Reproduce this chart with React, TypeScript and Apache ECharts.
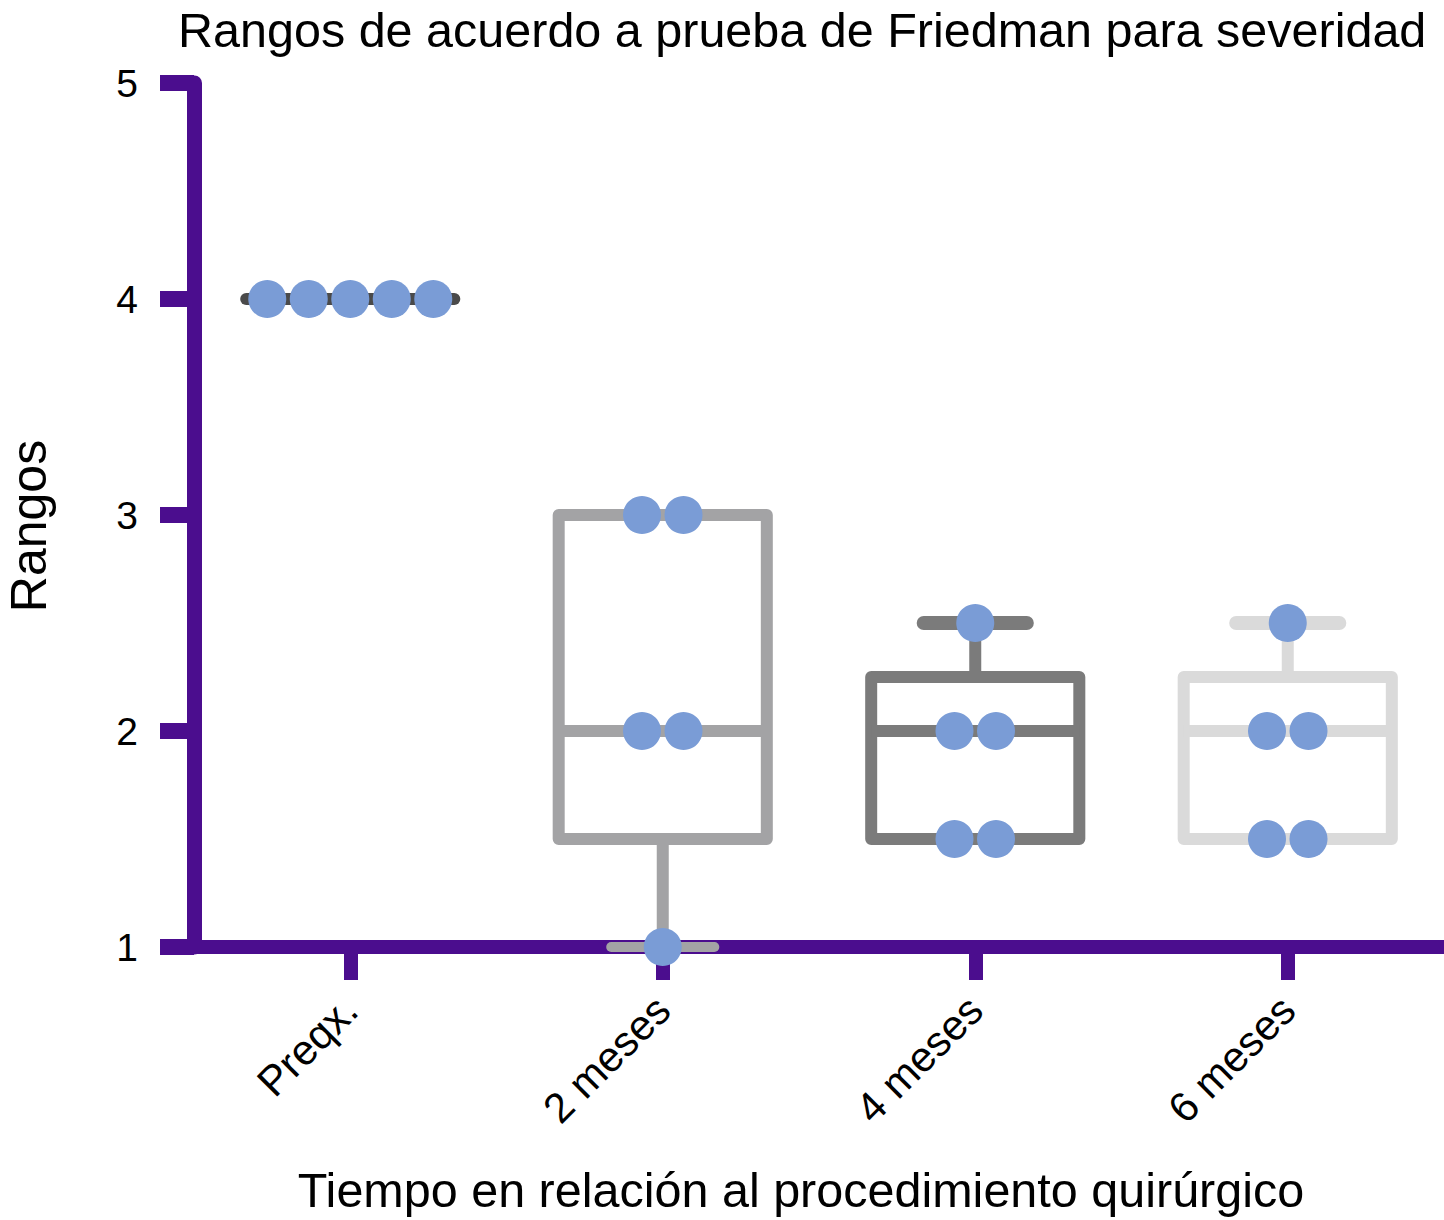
import React, { useEffect, useRef } from "react";
import * as echarts from "echarts";

const titleText = "Rangos de acuerdo a prueba de Friedman para severidad";
const xAxisTitle = "Tiempo en relación al procedimiento quirúrgico";
const yAxisTitle = "Rangos";
const categories = ["Preqx.", "2 meses", "4 meses", "6 meses"];

// per-subject rank values by category
const preqxValues = [4, 4, 4, 4, 4];
const meses2Values = [3, 3, 2, 2, 1];
const meses4Values = [2.5, 2, 2, 1.5, 1.5];
const meses6Values = [2.5, 2, 2, 1.5, 1.5];

// box stats: [min, Q1, median, Q3, max]
const preqxBox = [4, 4, 4, 4, 4];
const meses2Box = [1, 1.5, 2, 3, 3];
const meses4Box = [1.5, 1.5, 2, 2.25, 2.5];
const meses6Box = [1.5, 1.5, 2, 2.25, 2.5];

const yMin = 1;
const yMax = 5;
const yInterval = 1;

const boxColors = ["#4a4a4a", "#a3a3a5", "#7b7b7b", "#dadada"];
const AXIS_COLOR = "#4B0D8E";
const POINT_COLOR = "#7A9CD6";
const FONT = "Liberation Sans, Arial, Helvetica, sans-serif";

export default function App() {
  const ref = useRef<HTMLDivElement>(null);

  useEffect(() => {
    document.body.style.margin = "0";
    if (!ref.current) return;
    const chart = echarts.init(ref.current, null, { renderer: "svg" });

    const allValues = [preqxValues, meses2Values, meses4Values, meses6Values];
    const allBoxes = [preqxBox, meses2Box, meses4Box, meses6Box];

    const boxData = allBoxes.map((b, i) => [i, ...b]);

    // points: [category, value, rank among equal values, count of equal values]
    const pointData: number[][] = [];
    allValues.forEach((vals, c) => {
      const seen: Record<string, number> = {};
      vals.forEach((v) => {
        const n = vals.filter((w) => w === v).length;
        const k = seen[v] || 0;
        seen[v] = k + 1;
        pointData.push([c, v, k, n]);
      });
    });

    const option: any = {
      animation: false,
      backgroundColor: "#ffffff",
      title: {
        text: titleText,
        left: 173,
        top: 0,
        textStyle: { fontFamily: FONT, fontSize: 48.5, fontWeight: "normal", color: "#000" },
      },
      grid: { left: 194, right: 0, top: 83, bottom: 273, containLabel: false, outerBoundsMode: "none" },
      xAxis: {
        type: "category",
        data: categories,
        boundaryGap: true,
        name: xAxisTitle,
        nameLocation: "middle",
        nameGap: 218,
        nameTextStyle: { fontFamily: FONT, fontSize: 48.5, color: "#000", padding: [0, 36, 0, 0] },
        axisLine: { lineStyle: { color: AXIS_COLOR, width: 14 } },
        axisTick: { show: true, interval: 0, alignWithLabel: true, length: 33, lineStyle: { color: AXIS_COLOR, width: 14 } },
        axisLabel: { rotate: 45, interval: 0, fontFamily: FONT, fontSize: 42, color: "#000", margin: 56 },
        splitLine: { show: false },
      },
      yAxis: {
        type: "value",
        min: yMin,
        max: yMax,
        interval: yInterval,
        name: yAxisTitle,
        nameLocation: "middle",
        nameGap: 140,
        nameTextStyle: { fontFamily: FONT, fontSize: 50, color: "#000", padding: [0, 22, 0, 0] },
        axisLine: { show: true, lineStyle: { color: AXIS_COLOR, width: 15 } },
        axisTick: { show: true, length: 34, lineStyle: { color: AXIS_COLOR, width: 16 } },
        axisLabel: { fontFamily: FONT, fontSize: 39, color: "#000", margin: 56 },
        splitLine: { show: false },
      },
      series: [
        {
          type: "custom",
          z: 3,
          data: boxData,
          encode: { x: 0, y: [1, 2, 3, 4, 5] },
          renderItem: (params: any, api: any) => {
            const c = api.value(0);
            const mn = api.value(1), q1 = api.value(2), md = api.value(3), q3 = api.value(4), mx = api.value(5);
            const band = api.size([1, 0])[0];
            const x = api.coord([c, md])[0];
            const half = band * 0.333;
            const capHalf = band * 0.165;
            const y = (v: number) => api.coord([c, v])[1];
            const color = boxColors[c];
            const style = { stroke: color, lineWidth: 12, fill: null, lineCap: "round", lineJoin: "round" };
            const children: any[] = [];
            if (mn < q1) {
              children.push({ type: "line", shape: { x1: x, y1: y(q1), x2: x, y2: y(mn) }, style: { ...style, lineCap: "butt" } });
              children.push({ type: "line", shape: { x1: x - capHalf, y1: y(mn), x2: x + capHalf, y2: y(mn) }, style: { ...style, lineWidth: 10 } });
            }
            if (mx > q3) {
              children.push({ type: "line", shape: { x1: x, y1: y(q3), x2: x, y2: y(mx) }, style: { ...style, lineCap: "butt" } });
              children.push({ type: "line", shape: { x1: x - capHalf, y1: y(mx), x2: x + capHalf, y2: y(mx) }, style: { ...style, lineWidth: 14 } });
            }
            if (q3 > q1) {
              children.push({ type: "rect", shape: { x: x - half, y: y(q3), width: 2 * half, height: y(q1) - y(q3) }, style: { ...style, lineCap: "butt" } });
            }
            children.push({ type: "line", shape: { x1: x - half, y1: y(md), x2: x + half, y2: y(md) }, style: { ...style, lineCap: q3 > q1 ? "butt" : "round" } });
            return { type: "group", children };
          },
        },
        {
          type: "custom",
          z: 4,
          data: pointData,
          encode: { x: 0, y: 1 },
          renderItem: (params: any, api: any) => {
            const c = api.value(0), v = api.value(1), k = api.value(2), n = api.value(3);
            const p = api.coord([c, v]);
            const spacing = 41.5;
            return {
              type: "circle",
              shape: { cx: p[0] + (k - (n - 1) / 2) * spacing, cy: p[1], r: 19 },
              style: { fill: POINT_COLOR },
            };
          },
        },
      ],
    };

    chart.setOption(option);
    return () => chart.dispose();
  }, []);

  return <div ref={ref} style={{ position: "absolute", left: 0, top: 0, width: 1444, height: 1220 }} />;
}
